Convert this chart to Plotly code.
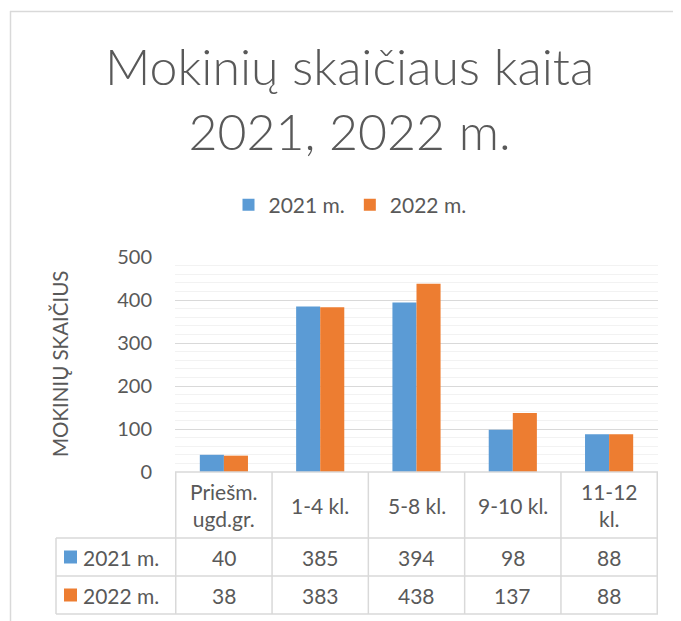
import plotly.graph_objects as go

categories = ["Priešm. ugd.gr.", "1-4 kl.", "5-8 kl.", "9-10 kl.", "11-12 kl."]
category_labels = ["Priešm.<br>ugd.gr.", "1-4 kl.", "5-8 kl.", "9-10 kl.", "11-12<br>kl."]
series_names = ["2021 m.", "2022 m."]
values_2021 = [40, 385, 394, 98, 88]
values_2022 = [38, 383, 438, 137, 88]
y_ticks = [0, 100, 200, 300, 400, 500]

colors = ["#5B9BD5", "#ED7D31"]
text_color = "#595959"
grid_major = "#D9D9D9"
grid_minor = "#F2F2F2"
FONT = "Lato"

OFF = 8  # page body margin
W, H = 681, 621
pw, ph = 483, 215
L, T = 175 - OFF, 257 - OFF
R, B = W - L - pw, H - T - ph

def px_x(x):
    return (x - OFF - L) / pw

def px_y(y):
    return (T + ph - (y - OFF)) / ph

fig = go.Figure()
for name, vals, c in zip(series_names, [values_2021, values_2022], colors):
    fig.add_trace(go.Bar(x=categories, y=vals, name=name, marker=dict(color=c, line=dict(width=0))))

shapes = []
annotations = []

# chart border (top and left)
shapes.append(dict(type="line", xref="paper", yref="paper", x0=px_x(10), x1=px_x(720),
                   y0=px_y(11.5), y1=px_y(11.5), line=dict(color="#D9D9D9", width=1.5)))
shapes.append(dict(type="line", xref="paper", yref="paper", x0=px_x(10.5), x1=px_x(10.5),
                   y0=px_y(11), y1=px_y(660), line=dict(color="#D9D9D9", width=1.5)))

# data table
row_h = [472, 538, 576, 614]
tbl_left = 56
line_style = dict(color="#D9D9D9", width=1.5)
shapes.append(dict(type="line", xref="paper", yref="paper", x0=0, x1=1,
                   y0=px_y(row_h[0]), y1=px_y(row_h[0]), line=line_style))
for yy in row_h[1:]:
    shapes.append(dict(type="line", xref="paper", yref="paper", x0=px_x(tbl_left), x1=1,
                       y0=px_y(yy), y1=px_y(yy), line=line_style))
n = len(categories)
for i in range(n + 1):
    shapes.append(dict(type="line", xref="x", yref="paper", x0=i - 0.5, x1=i - 0.5,
                       y0=px_y(row_h[0]), y1=px_y(row_h[3]), line=line_style))
shapes.append(dict(type="line", xref="paper", yref="paper", x0=px_x(tbl_left), x1=px_x(tbl_left),
                   y0=px_y(row_h[1]), y1=px_y(row_h[3]), line=line_style))

tfont = dict(family=FONT, size=21, color=text_color)
for i, lab in enumerate(category_labels):
    annotations.append(dict(xref="x", yref="paper", x=i, y=px_y((row_h[0] + row_h[1]) / 2),
                            text=lab, showarrow=False, font=tfont,
                            xanchor="center", yanchor="middle"))
for r, (name, vals, c) in enumerate(zip(series_names, [values_2021, values_2022], colors)):
    yc = (row_h[r + 1] + row_h[r + 2]) / 2
    for i, v in enumerate(vals):
        annotations.append(dict(xref="x", yref="paper", x=i, y=px_y(yc), text=str(v), showarrow=False,
                                font=tfont, xanchor="center", yanchor="middle"))
    shapes.append(dict(type="rect", xref="paper", yref="paper", x0=px_x(64), x1=px_x(77),
                       y0=px_y(yc - 6.5), y1=px_y(yc + 6.5), fillcolor=c, line=dict(width=0)))
    annotations.append(dict(xref="paper", yref="paper", x=px_x(81), y=px_y(yc), text=name, showarrow=False,
                            font=tfont, xanchor="left", yanchor="middle"))

# y-axis title
annotations.append(dict(xref="paper", yref="paper", x=px_x(60), y=px_y(364), text="MOKINIŲ SKAIČIUS",
                        textangle=-90, showarrow=False, font=dict(family=FONT, size=20.5, color=text_color),
                        xanchor="center", yanchor="middle"))

# title
annotations.append(dict(xref="paper", yref="paper", x=px_x(349), y=px_y(98),
                        text="Mokinių skaičiaus kaita<br>2021, 2022 m.", showarrow=False,
                        font=dict(family=FONT, size=50, color=text_color, weight=300),
                        xanchor="center", yanchor="middle"))

fig.update_layout(
    width=W, height=H,
    margin=dict(l=L, r=R, t=T, b=B, autoexpand=False),
    paper_bgcolor="white", plot_bgcolor="white",
    barmode="group", bargap=0.5, bargroupgap=0,
    showlegend=True,
    legend=dict(orientation="h", x=px_x(350), xanchor="center", y=px_y(205), yanchor="middle",
                font=dict(family=FONT, size=21, color=text_color),
                traceorder="normal", itemwidth=30),
    xaxis=dict(showticklabels=False, showgrid=False, zeroline=False, showline=False, ticks=""),
    yaxis=dict(range=[0, 500], tickvals=y_ticks, showgrid=True, gridcolor=grid_major, gridwidth=1,
               zeroline=False, showline=False, ticks="outside", ticklen=18, tickcolor="rgba(0,0,0,0)",
               tickfont=dict(family=FONT, size=20, color=text_color),
               minor=dict(dtick=20, showgrid=True, gridcolor=grid_minor, gridwidth=1)),
    shapes=shapes, annotations=annotations,
)

fig.write_html("out.html")
